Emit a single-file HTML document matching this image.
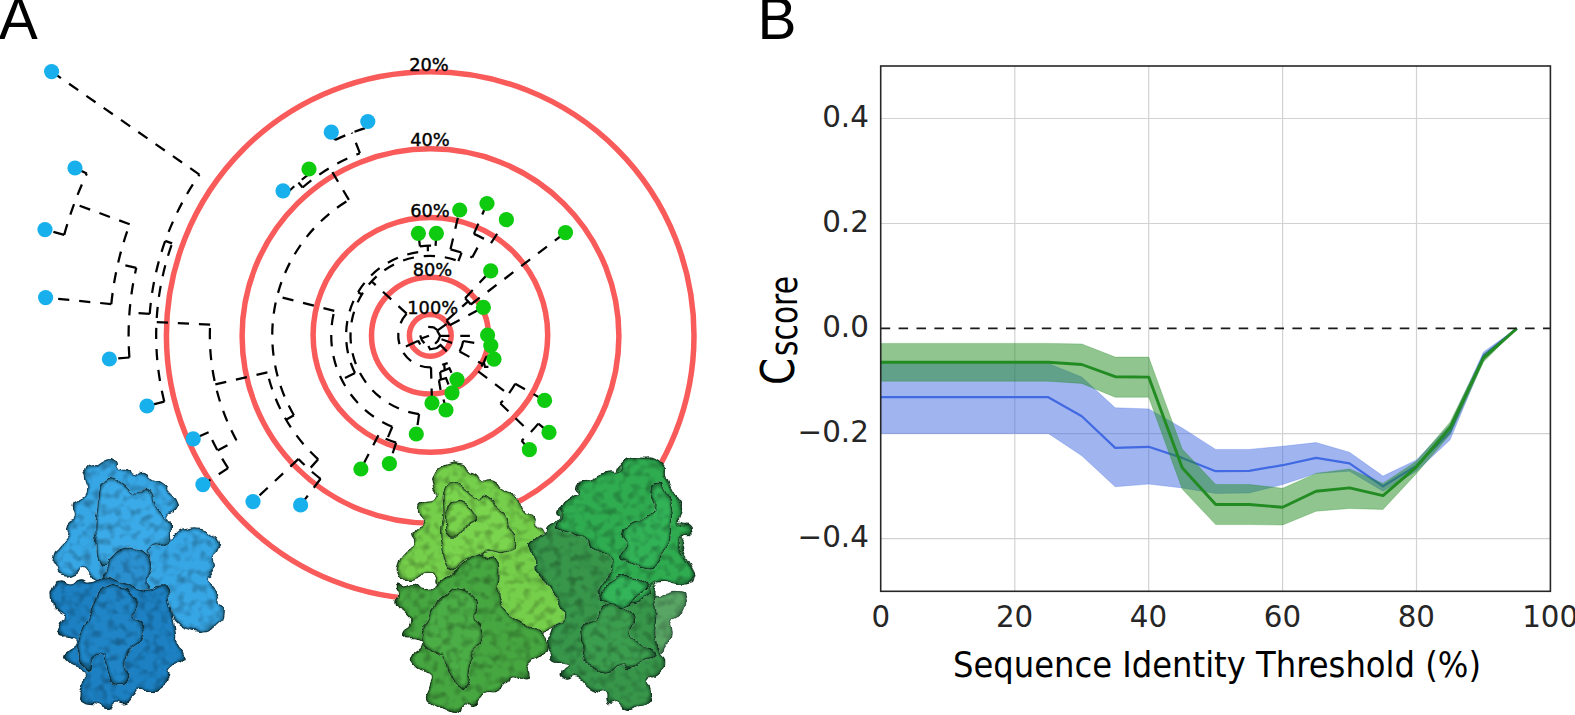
<!DOCTYPE html>
<html lang="en"><head><meta charset="utf-8"><title>Figure: sequence identity dendrogram and C-score</title>
<style>html,body{margin:0;padding:0;background:#fff}svg{display:block}text{font-family:"DejaVu Sans","Liberation Sans",sans-serif}.lab{font-family:"Liberation Sans","DejaVu Sans",sans-serif}</style></head><body>
<svg width="1575" height="715" viewBox="0 0 1575 715">
<rect width="1575" height="715" fill="#fff"/>
<g id="panelA">
<g fill="none" stroke="#f95a5a" stroke-width="5.5">
<ellipse cx="430.2" cy="335.5" rx="263.8" ry="263.8"/>
<ellipse cx="430.5" cy="336" rx="188.4" ry="187.2"/>
<ellipse cx="430.4" cy="334.9" rx="117.3" ry="117.4"/>
<ellipse cx="430" cy="335.6" rx="58.5" ry="58.4"/>
<ellipse cx="430.3" cy="335.4" rx="20.9" ry="20.9"/>
</g>
<g fill="none" stroke="#000" stroke-width="2.25" stroke-dasharray="11.2 9.9">
<path d="M431 367.4A32 32 0 0 1 406.7 313.7"/>
<path d="M406.7 313.7L371.8 281.5"/>
<path d="M419.1 414.1A79.5 79.5 0 1 1 458.4 261.1"/>
<path d="M419.1 414.1L416.3 434"/>
<path d="M362 294.5L358.1 292.2"/>
<path d="M355 373A84.1 84.1 0 0 1 427.9 251.3"/>
<path d="M355 373L341.6 379.7"/>
<path d="M392.3 426.8A99 99 0 0 1 334.3 310.9"/>
<path d="M334.3 310.9L277.1 296.2"/>
<path d="M293.9 415.2A158 158 0 0 1 348.9 199.9"/>
<path d="M293.9 415.2L286.1 419.8"/>
<path d="M318.2 459.3A167 167 0 0 1 267.4 372.4"/>
<path d="M267.4 372.4L215.3 384.3"/>
<path d="M236.4 440.3A220.4 220.4 0 0 1 210.1 324.6"/>
<path d="M210.1 324.6L156.5 322"/>
<path d="M164.3 401.7A274 274 0 0 1 172.1 243.4"/>
<path d="M172.1 243.4L165.2 240.9"/>
<path d="M149.7 313.9A281.3 281.3 0 0 1 199.4 174.6"/>
<path d="M199.4 174.6L51.6 71.6"/>
<path d="M149.7 313.9L129.5 312.4"/>
<path d="M129.4 357.5A301.6 301.6 0 0 1 136.3 267.8"/>
<path d="M136.3 267.8L118 263.6"/>
<path d="M111.3 304.1A320.4 320.4 0 0 1 129.7 224.3"/>
<path d="M129.7 224.3L74.2 203.7"/>
<path d="M64.2 234.9A379.6 379.6 0 0 1 86.8 173.6"/>
<path d="M86.8 173.6L75 168"/>
<path d="M64.2 234.9L45 229.6"/>
<path d="M111.3 304.1L45.6 297.6"/>
<path d="M129.4 357.5L109.4 359"/>
<path d="M164.3 401.7L147 406"/>
<path d="M217.6 450.5L236.4 440.3"/>
<path d="M228.1 468.1A241.8 241.8 0 0 1 208.6 432.2"/>
<path d="M208.6 432.2L193.2 438.9"/>
<path d="M228.1 468.1L202.9 484.6"/>
<path d="M318.2 459.3L309.2 469.3"/>
<path d="M320.6 478.8A180.5 180.5 0 0 1 298.5 458.9"/>
<path d="M298.5 458.9L253 501.6"/>
<path d="M320.6 478.8L300.6 505"/>
<path d="M348.9 199.9L329.8 167.9"/>
<path d="M302.6 187.5A195.3 195.3 0 0 1 359.9 153.2"/>
<path d="M302.6 187.5L298.4 182.6"/>
<path d="M286.2 194A201.8 201.8 0 0 1 311.4 172.3"/>
<path d="M286.2 194L283 190.8"/>
<path d="M311.4 172.3L309 169"/>
<path d="M359.9 153.2L351.9 132.7"/>
<path d="M335.1 140A217.3 217.3 0 0 1 369.3 126.8"/>
<path d="M335.1 140L331.3 132.2"/>
<path d="M369.3 126.8L367.8 121.5"/>
<path d="M392.3 426.8L387.1 439.3"/>
<path d="M396.1 442.6A112.5 112.5 0 0 1 378.4 435.3"/>
<path d="M378.4 435.3L360.9 469"/>
<path d="M396.1 442.6L389.4 463.7"/>
<path d="M427.9 251.3L427.8 245.7"/>
<path d="M419.9 246.3A89.7 89.7 0 0 1 435.6 245.9"/>
<path d="M419.9 246.3L418.4 233.3"/>
<path d="M435.6 245.9L436.4 233.3"/>
<path d="M458.4 261.1L461.6 252.7"/>
<path d="M450.5 249.3A88.5 88.5 0 0 1 472.2 257.5"/>
<path d="M450.5 249.3L459.7 210"/>
<path d="M472.2 257.5L482.6 238.1"/>
<path d="M473.9 233.9A110.5 110.5 0 0 1 491 243.1"/>
<path d="M473.9 233.9L487 203.5"/>
<path d="M491 243.1L506.4 219.7"/>
<path d="M431 367.4L432 403"/>
<path d="M416.1 341.8L401.1 348.6"/>
<path d="M446.5 320.7A22 22 0 0 1 449.7 325.2"/>
<path d="M446.5 320.7L468.1 301.3"/>
<path d="M465.1 298.2A51 51 0 0 1 470.8 304.5"/>
<path d="M465.1 298.2L490.7 270.9"/>
<path d="M470.8 304.5L565.5 232.6"/>
<path d="M449.7 325.2L483.4 307.4"/>
<path d="M437.6 330.3L448.2 322.8"/>
<path d="M463.2 341A33.5 33.5 0 0 1 459.6 351.5"/>
<path d="M463.2 341L490.8 345.6"/>
<path d="M459.6 351.5L482.8 364.2"/>
<path d="M486.4 356.4A60 60 0 0 1 478.2 371.4"/>
<path d="M486.4 356.4L494 359.2"/>
<path d="M478.2 371.4L508.4 394.1"/>
<path d="M515.2 383.7A97.8 97.8 0 0 1 500.4 403.5"/>
<path d="M515.2 383.7L544.6 400.4"/>
<path d="M500.4 403.5L530.3 432.5"/>
<path d="M538.3 423.6A139.5 139.5 0 0 1 521.6 440.8"/>
<path d="M538.3 423.6L549 432.4"/>
<path d="M521.6 440.8L529.4 449.7"/>
<path d="M441.5 339.3L461.9 346.4"/>
</g>
<g fill="none" stroke="#000" stroke-width="2.25" stroke-linejoin="miter">
<polyline points="460.3,335.9 469.9,335.9"/>
<polyline points="440.1,335.9 449.4,335.9"/>
<polyline points="437.2,330.8 440.1,335.9 438,340.9 435.1,343.8"/>
<polyline points="428.2,326.9 433.6,327.3 437.8,330.3"/>
<polyline points="416,341.6 418.5,341.2 420.2,344.5"/>
<polyline points="420.2,335.3 421.9,340.3 424.4,343.3"/>
<polyline points="421.9,338.3 429,335.7"/>
<polyline points="428.4,345.9 430.1,349.3 436.8,348 440.6,345.1 446.8,351.4"/>
<polyline points="442.2,364.8 447.7,363.1"/>
<polyline points="444.3,364.5 444.7,370.3"/>
<polyline points="440.1,372 444.7,370.3 449.4,368.2 451.5,372.8"/>
<polyline points="440.1,372 441,379.5"/>
<polyline points="438.9,380.3 441,379.5 446,378.2 448.5,384.5"/>
<polyline points="438.9,380.3 440.6,390"/>
<polyline points="443.5,399.5 444.5,403"/>
<polyline points="483.8,361.9 485,366.9 488.4,366.9"/>
</g>
<circle cx="51.6" cy="71.6" r="7.6" fill="#18b0ec"/>
<circle cx="75" cy="168" r="7.6" fill="#18b0ec"/>
<circle cx="45" cy="229.6" r="7.6" fill="#18b0ec"/>
<circle cx="45.6" cy="297.6" r="7.6" fill="#18b0ec"/>
<circle cx="109.4" cy="359" r="7.6" fill="#18b0ec"/>
<circle cx="147" cy="406" r="7.6" fill="#18b0ec"/>
<circle cx="193.2" cy="438.9" r="7.6" fill="#18b0ec"/>
<circle cx="202.9" cy="484.6" r="7.6" fill="#18b0ec"/>
<circle cx="253" cy="501.6" r="7.6" fill="#18b0ec"/>
<circle cx="300.6" cy="505" r="7.6" fill="#18b0ec"/>
<circle cx="283" cy="190.8" r="7.6" fill="#18b0ec"/>
<circle cx="331.3" cy="132.2" r="7.6" fill="#18b0ec"/>
<circle cx="367.8" cy="121.5" r="7.6" fill="#18b0ec"/>
<circle cx="309" cy="169" r="7.6" fill="#0fcb10"/>
<circle cx="459.7" cy="210" r="7.6" fill="#0fcb10"/>
<circle cx="487" cy="203.5" r="7.6" fill="#0fcb10"/>
<circle cx="506.4" cy="219.7" r="7.6" fill="#0fcb10"/>
<circle cx="418.4" cy="233.3" r="7.6" fill="#0fcb10"/>
<circle cx="436.4" cy="233.3" r="7.6" fill="#0fcb10"/>
<circle cx="565.5" cy="232.6" r="7.6" fill="#0fcb10"/>
<circle cx="490.7" cy="270.9" r="7.6" fill="#0fcb10"/>
<circle cx="483.4" cy="307.4" r="7.6" fill="#0fcb10"/>
<circle cx="487.6" cy="335" r="7.6" fill="#0fcb10"/>
<circle cx="490.8" cy="345.6" r="7.6" fill="#0fcb10"/>
<circle cx="494" cy="359.2" r="7.6" fill="#0fcb10"/>
<circle cx="457" cy="379.6" r="7.6" fill="#0fcb10"/>
<circle cx="452" cy="392.8" r="7.6" fill="#0fcb10"/>
<circle cx="432" cy="403" r="7.6" fill="#0fcb10"/>
<circle cx="446" cy="410" r="7.6" fill="#0fcb10"/>
<circle cx="416.3" cy="434" r="7.6" fill="#0fcb10"/>
<circle cx="389.4" cy="463.7" r="7.6" fill="#0fcb10"/>
<circle cx="360.9" cy="469" r="7.6" fill="#0fcb10"/>
<circle cx="544.6" cy="400.4" r="7.6" fill="#0fcb10"/>
<circle cx="549" cy="432.4" r="7.6" fill="#0fcb10"/>
<circle cx="529.4" cy="449.7" r="7.6" fill="#0fcb10"/>
<g font-size="17.8" text-anchor="middle" fill="#000" stroke="#000" stroke-width="0.4">
<text x="429" y="70.8">20%</text>
<text x="430" y="146">40%</text>
<text x="430" y="216.5">60%</text>
<text x="432.5" y="275.5">80%</text>
<text x="432.7" y="313.6">100%</text>
</g>
<defs><filter id="prot" x="-8%" y="-8%" width="116%" height="116%" color-interpolation-filters="sRGB"><feTurbulence type="fractalNoise" baseFrequency="0.075" numOctaves="1" seed="4" result="n1"/><feDisplacementMap in="SourceGraphic" in2="n1" scale="11" xChannelSelector="R" yChannelSelector="G" result="shape"/><feTurbulence type="fractalNoise" baseFrequency="0.13" numOctaves="2" seed="11" result="noise"/><feGaussianBlur in="noise" stdDeviation="0.9" result="nb"/><feColorMatrix in="nb" type="matrix" values="0.75 0 0 0 0.59  0.75 0 0 0 0.59  0.75 0 0 0 0.59  0 0 0 0 1" result="lit"/><feBlend in="shape" in2="lit" mode="multiply" result="mult"/><feComposite in="mult" in2="shape" operator="in" result="tex"/><feGaussianBlur in="shape" stdDeviation="4.5" result="blurA"/><feColorMatrix in="blurA" type="matrix" values="0 0 0 0 0  0 0 0 0 0.08  0 0 0 0 0.05  0 0 0 -1.3 1.05" result="edge0"/><feComposite in="edge0" in2="shape" operator="in" result="edge"/><feMerge><feMergeNode in="tex"/><feMergeNode in="edge"/></feMerge></filter></defs>
<g id="proteins" stroke-width="1.3" stroke-linejoin="round">
<path d="M648 594C651.3 585.8 650.4 595.3 656 595.5C661.6 595.7 657.2 595.6 664.7 594.6C672.2 593.6 672.3 591.3 678.5 592.6C684.7 593.9 682.1 592 683.4 598.5C684.7 605 686 604.4 682.4 612.2C678.8 620 675.9 614.2 672.6 622C669.3 629.8 675.2 627.9 672.6 635.7C670 643.5 669.3 640.1 664.7 645.5C660.1 650.9 664.5 651.2 658.9 652C653.3 652.8 652.3 658.7 648 648C643.7 637.3 646 638 646 620C646 602 644.7 602.2 648 594Z" fill="#469c54" stroke="#2a6e3a" opacity="0.9" filter="url(#prot)"/>
<path d="M86 468.6C89.3 463.7 89.3 468 96.8 464.7C104.3 461.4 102.4 459.5 108.6 458.8C114.8 458.1 112.5 459.1 115.4 462.7C118.3 466.3 113.8 467.3 117.4 469.6C121 471.9 121.3 467.6 126.2 469.6C131.1 471.6 126.8 474.9 132 475.5C137.2 476.1 135.7 470.2 141.9 471.5C148.1 472.8 144.2 475.1 150.7 479.4C157.2 483.7 155.5 480.1 161.4 484.3C167.3 488.5 163.4 486.6 168.3 492.1C173.2 497.6 173.8 495.3 176.1 500.9C178.4 506.5 177.8 504.2 175.2 508.8C172.6 513.4 170.3 509.4 168.3 514.6C166.3 519.8 169.6 518.5 169.3 524.4C169 530.3 166.7 527.8 167.3 532.3C167.9 536.8 167.9 538 171.2 538C174.5 538 171.9 535.2 177.1 532.3C182.3 529.4 179.1 530.6 186.9 529.3C194.7 528 192.8 526.8 200.6 528.4C208.4 530 204.5 529.6 210.4 534.2C216.3 538.8 216 536.9 218.3 542.1C220.6 547.3 219.3 544.7 217.3 549.9C215.3 555.1 213.4 552.5 212.4 557.7C211.4 562.9 215 560.4 214.3 565.6C213.6 570.8 213.3 569.3 210.4 573.4C207.5 577.5 205.5 574.2 205.5 578C205.5 581.8 206.1 579.9 210.4 584.8C214.7 589.7 216.3 586.1 218.3 592.6C220.3 599.1 214.7 597.9 216.3 604.4C217.9 610.9 223.9 605 223.2 612.2C222.5 619.4 221.2 619.7 214.3 625.9C207.4 632.1 211.1 629.8 202.6 630.8C194.1 631.8 197.4 631.8 188.9 628.9C180.4 626 183.4 627.6 177.1 622C170.8 616.4 179 619.3 170 612C161 604.7 166.7 607.3 150 600C133.3 592.7 137.7 596.9 120 590C102.3 583.1 107.1 584.2 96.8 579.3C86.5 574.4 93.9 579.3 89 575.4C84.1 571.5 86.7 568.2 82.1 567.5C77.5 566.8 81.5 570.8 75.3 573.4C69.1 576 69.7 576.7 63.5 575.4C57.3 574.1 60 575.7 56.7 569.5C53.4 563.3 52.1 564.6 53.7 556.8C55.3 549 56.6 552.9 61.5 546C66.4 539.1 65.8 543.4 68.4 536.2C71 529 66.8 530.6 69.4 524.4C72 518.2 75.2 523.5 76.2 517.6C77.2 511.7 71.3 513 72.3 506.8C73.3 500.6 73.6 503.6 79.2 499C84.8 494.4 86.4 499.6 89 493.1C91.6 486.6 88 487.6 87 479.4C86 471.2 82.7 473.5 86 468.6Z" fill="#37a6e5" stroke="#1b5f8e" filter="url(#prot)"/>
<path d="M96.8 508.8C98.1 495.7 96.2 498 98.8 489.2C101.4 480.4 99.4 485.2 104.6 482.3C109.8 479.4 107.2 478.4 114.4 480.4C121.6 482.4 120.3 483.3 126.2 488.2C132.1 493.1 126.9 494.4 132.1 495.1C137.3 495.8 136 490.2 141.9 490.2C147.8 490.2 145.8 489.6 149.7 495.1C153.6 500.6 148.4 499.6 153.6 506.8C158.8 514 160.2 508.1 165.4 516.6C170.6 525.1 169.3 523.8 169.3 532.3C169.3 540.8 171.9 536.9 165.4 542.1C158.9 547.3 154.3 542 149.7 547.9C145.1 553.8 153 551.8 151.7 559.7C150.4 567.6 151.7 568.9 145.8 571.5C139.9 574.1 141.2 574 134 567.5C126.8 561 130.7 554.5 124.2 551.9C117.7 549.3 120.3 555.1 114.4 559.7C108.5 564.3 111.8 565.6 106.6 565.6C101.4 565.6 102.1 566.9 98.8 559.7C95.5 552.5 98.1 554.4 96.8 544C95.5 533.6 94.8 540.1 94.8 528.4C94.8 516.7 95.5 521.9 96.8 508.8Z" fill="#3baae8" stroke="#1b5f8e" filter="url(#prot)"/>
<path d="M107 581C104 573.7 105.7 574.3 108 566C110.3 557.7 108.7 561.5 114 556C119.3 550.5 117 551.8 124 549.5C131 547.2 127.7 547.8 135 549C142.3 550.2 140.7 548.7 146 553C151.3 557.3 149.7 555.7 151 562C152.3 568.3 151.7 566 150 572C148.3 578 146.3 574.3 146 580C145.7 585.7 151 584.3 149 589C147 593.7 147 593 140 594C133 595 135.7 594 128 592C120.3 590 124 591.7 117 588C110 584.3 110 588.3 107 581Z" fill="#2a90d0" stroke="#175582" filter="url(#prot)"/>
<path d="M53.7 586.8C56.9 580.6 55.6 582.6 61.5 581.9C67.4 581.2 65.1 585.4 71.3 584.8C77.5 584.2 73.8 580.9 80 580C86.2 579.1 83.3 582.7 90 582C96.7 581.3 94 579.7 100 578C106 576.3 102 576 108 577C114 578 110.7 578.3 118 581C125.3 583.7 122.7 582.3 130 585C137.3 587.7 133.3 587.3 140 589C146.7 590.7 143.3 591 150 590C156.7 589 154.3 586 160 586C165.7 586 163.7 584.7 167 590C170.3 595.3 167.8 591.3 170 602C172.2 612.7 171.7 611.3 173.5 622C175.3 632.7 174.5 626.2 175.5 634C176.5 641.8 174.3 639 176.5 645.5C178.7 652 180.8 648.2 182 653.4C183.2 658.6 184.3 656.6 180.1 661.2C175.9 665.8 173.2 661.9 169.3 667.1C165.4 672.3 170.9 670.4 168.3 676.9C165.7 683.4 167.7 682.1 161.5 686.7C155.3 691.3 156.9 690 149.7 690.6C142.5 691.2 145.8 686.7 139.9 688.6C134 690.5 137.3 691.5 132.1 696.4C126.9 701.3 129.8 701.3 124.2 703.3C118.6 705.3 120.6 700.7 115.4 702.3C110.2 703.9 114.8 707.2 108.6 708.2C102.4 709.2 105 707.3 96.8 705.3C88.6 703.3 89.3 705.9 84.1 702.3C78.9 698.7 81.1 700.4 81.1 694.5C81.1 688.6 82.5 691.2 84.1 684.7C85.7 678.2 87.6 680.1 86 674.9C84.4 669.7 85.1 672.9 79.2 669C73.3 665.1 72.7 668.3 68.4 663.1C64.1 657.9 63.8 659.9 66.4 653.4C69 646.9 75.2 648.8 76.2 643.6C77.2 638.4 74.9 640.3 69.4 637.7C63.9 635.1 62.9 639.3 59.6 635.7C56.3 632.1 57 633.1 59.6 626.9C62.2 620.7 68.1 622.6 67.4 617.1C66.7 611.6 62.8 615.8 57.6 610.3C52.4 604.8 53.1 608.3 51.8 600.5C50.5 592.7 50.5 593 53.7 586.8Z" fill="#1c80c2" stroke="#114a72" filter="url(#prot)"/>
<path d="M98.8 594.6C103.4 587.4 100.1 589.4 106.6 586.8C113.1 584.2 109.9 584.2 118.4 586.8C126.9 589.4 126.2 587.4 132.1 594.6C138 601.8 136 600.5 136 608.3C136 616.1 130.1 612.2 132.1 618.1C134.1 624 138.6 618.7 141.9 625.9C145.2 633.1 145.2 631.8 141.9 639.6C138.6 647.4 137.3 642.2 132.1 649.4C126.9 656.6 128.2 652 126.2 661.2C124.2 670.4 128.8 669.1 126.2 676.9C123.6 684.7 123.6 684.7 118.4 684.7C113.2 684.7 114.4 684.1 110.5 676.9C106.6 669.7 108.6 670.9 106.6 663.1C104.6 655.3 108.5 655.3 104.6 653.4C100.7 651.5 100.7 652.1 94.8 657.3C88.9 662.5 92.2 670.3 87 669C81.8 667.7 81.8 663.2 79.2 653.4C76.6 643.6 76.6 649.4 79.2 639.6C81.8 629.8 82.4 634.4 87 624C91.6 613.6 89 618.1 92.9 608.3C96.8 598.5 94.2 601.8 98.8 594.6Z" fill="#1f85c7" stroke="#114a72" filter="url(#prot)"/>
<path d="M434.8 473.5C438.4 467.3 436.1 469.6 444.6 466.7C453.1 463.8 452.8 463.4 460.3 464.7C467.8 466 462 467.3 467.2 470.6C472.4 473.9 471.1 470.9 476 474.5C480.9 478.1 476 479 481.9 481.3C487.8 483.6 487.1 478.7 493.6 481.3C500.1 483.9 495 484.9 501.5 489.2C508 493.5 507.3 490.2 513.2 494.1C519.1 498 515.2 494.7 519.1 500.9C523 507.1 519.8 507.5 525 512.7C530.2 517.9 530.9 512 534.8 516.6C538.7 521.2 533.3 520.6 536.7 526.4C540.1 532.2 539.9 522.8 545 534C550.1 545.2 547 544.7 552 560C557 575.3 555.3 566.7 560 580C564.7 593.3 564 587.3 566 600C568 612.7 569.2 609.5 566 618.1C562.8 626.7 562.8 621.3 556.3 625.9C549.8 630.5 553.7 629.2 546.5 631.8C539.3 634.4 541.9 635.8 534.7 633.8C527.5 631.8 532.2 629.8 525 625.9C517.8 622 521 625.9 513.2 622C505.4 618.1 507.6 621.5 501.5 614.2C495.4 606.9 498.8 609.7 495 600C491.2 590.3 498.3 588.3 490 585C481.7 581.7 483.3 589 470 590C456.7 591 461.1 589.4 450 588C438.9 586.6 441.9 589.4 436.8 585.8C431.7 582.2 438.1 581.8 434.8 577.3C431.5 572.8 432.2 572.4 427 572.4C421.8 572.4 425.7 575 419.2 577.3C412.7 579.6 414.3 579.9 407.4 579.3C400.5 578.7 401.2 581.3 398.6 575.4C396 569.5 397.3 569.5 399.6 561.7C401.9 553.9 400.3 557.8 405.5 551.9C410.7 546 412.7 550.5 415.3 544C417.9 537.5 410.7 539.5 413.3 532.3C415.9 525.1 421.1 529.7 423.1 522.5C425.1 515.3 419.2 517.6 419.2 510.7C419.2 503.8 417.2 506.5 423.1 501.9C429 497.3 433.2 502.5 436.8 497C440.4 491.5 434.6 493.1 433.9 485.3C433.2 477.5 431.2 479.7 434.8 473.5Z" fill="#75cf4a" stroke="#356b26" filter="url(#prot)"/>
<path d="M442.7 514.6C444 500.2 439.4 499 444.6 489.2C449.8 479.4 448.6 482.7 458.4 485.3C468.2 487.9 464.9 493.1 474 497C483.1 500.9 478 493.1 485.8 497C493.6 500.9 491 502.9 497.5 508.8C504 514.7 501.5 508.1 505.4 514.6C509.3 521.1 506 519.2 509.3 528.4C512.6 537.6 516.5 534.3 515.2 542.1C513.9 549.9 513.9 548.6 505.4 551.9C496.9 555.2 498.9 550.6 489.7 551.9C480.5 553.2 486.4 553.2 477.9 555.8C469.4 558.4 472 555.1 464.2 559.7C456.4 564.3 460.3 567.5 454.4 569.5C448.5 571.5 450.5 572.8 446.6 565.6C442.7 558.4 444.7 559 442.7 547.9C440.7 536.8 440.7 543.4 440.7 532.3C440.7 521.2 441.4 529 442.7 514.6Z" fill="#7ad44d" stroke="#356b26" filter="url(#prot)"/>
<path d="M444.6 516.6C445.3 510.7 443.3 511.4 446.6 506.8C449.9 502.2 447.9 503.6 454.4 502.9C460.9 502.2 459.7 501.5 466.2 504.8C472.7 508.1 470.7 508.1 474 512.7C477.3 517.3 478.6 514.7 476 518.6C473.4 522.5 470.8 519.8 466.2 524.4C461.6 529 466.2 528.4 462.3 532.3C458.4 536.2 459.6 536.2 454.4 536.2C449.2 536.2 449.9 536.2 446.6 532.3C443.3 528.4 445.3 529.6 444.6 524.4C443.9 519.2 443.9 522.5 444.6 516.6Z" fill="#78d24c" stroke="#356b26" filter="url(#prot)"/>
<path d="M396.7 584.8C398.7 582.2 399.3 586.8 405.5 586.8C411.7 586.8 408.8 583.5 415.3 584.8C421.8 586.1 417.9 590.4 425.1 590.7C432.3 591 430.2 589.4 436.8 585.8C443.4 582.2 438.9 584.6 445 580C451.1 575.4 448.3 578 455 572C461.7 566 458.3 567.3 465 562C471.7 556.7 467.3 558 475 556C482.7 554 480.7 554 488 556C495.3 558 493 555.7 497 562C501 568.3 499.7 565.7 500 575C500.3 584.3 498 580.7 498 590C498 599.3 497.3 596 500 603C502.7 610 500.7 605.7 506 611C511.3 616.3 508.3 613.7 516 619C523.7 624.3 520.7 622 529 627C537.3 632 535.3 629 541 634C546.7 639 544.5 636.2 546 642C547.5 647.8 548.2 645.9 545.5 651.4C542.8 656.9 544.5 653.9 538 658.5C531.5 663.1 529.4 660.3 526 665.1C522.6 669.9 528.2 668 527.9 672.9C527.6 677.8 529.9 679.1 525 679.8C520.1 680.5 519.1 673.9 513.2 674.9C507.3 675.9 512.5 677.5 507.3 682.7C502.1 687.9 504.3 687.3 497.5 690.6C490.7 693.9 492.7 689.2 486.8 692.5C480.9 695.8 484.8 695.8 479.9 700.4C475 705 477.3 704.9 472.1 706.2C466.9 707.5 468.8 702.3 464.2 704.3C459.6 706.3 464.9 710.8 458.4 712.1C451.9 713.4 452.8 710.8 444.6 708.2C436.4 705.6 439.4 708.2 433.9 704.3C428.4 700.4 429.3 702.3 428 696.4C426.7 690.5 428.7 693.2 430 686.7C431.3 680.2 433.5 681.8 431.9 676.9C430.3 672 431 675.9 425.1 672C419.2 668.1 418.2 670.7 414.3 665.1C410.4 659.5 410.7 661.8 413.3 655.3C415.9 648.8 420.8 650.7 422.1 645.5C423.4 640.3 422.7 642.2 417.2 639.6C411.7 637 409.7 640.6 405.5 637.7C401.3 634.8 402.2 636 404.5 630.8C406.8 625.6 411.3 628.2 412.3 622C413.3 615.8 412.3 618.1 407.4 612.2C402.5 606.3 400.2 610.3 397.6 604.4C395 598.5 399.9 601.1 399.6 594.6C399.3 588.1 394.7 587.4 396.7 584.8Z" fill="#46a640" stroke="#25591f" filter="url(#prot)"/>
<path d="M438.8 600.5C442.7 595.9 438.1 598.5 444.6 594.6C451.1 590.7 449.2 588.1 458.4 588.7C467.6 589.3 465.6 590.6 472.1 596.5C478.6 602.4 477.3 599.1 477.9 606.3C478.5 613.5 472.7 610.9 474 618.1C475.3 625.3 479.3 620.1 481.9 627.9C484.5 635.7 485.2 633.1 481.9 641.6C478.6 650.1 476 644.9 472.1 653.4C468.2 661.9 472.1 656.7 470.1 667.1C468.1 677.5 470.1 678.8 466.2 684.7C462.3 690.6 463.6 688.6 458.4 684.7C453.2 680.8 454.4 682 450.5 672.9C446.6 663.8 450.5 663.8 446.6 657.3C442.7 650.8 445.3 656.7 438.8 653.4C432.3 650.1 432.9 654 427 647.5C421.1 641 420.4 643 421.1 633.8C421.8 624.6 425.1 628.5 429 620C432.9 611.5 429.6 614.8 432.9 608.3C436.2 601.8 434.9 605.1 438.8 600.5Z" fill="#4bad45" stroke="#25591f" filter="url(#prot)"/>
<path d="M574.6 487C575.2 482.1 575.9 482.1 580.5 482.1C585.1 482.1 583.2 488 588.4 487C593.6 486 590.3 483.4 596.2 479.2C602.1 475 599.5 475.6 606 474.3C612.5 473 610.6 478.6 615.8 475.3C621 472 615.8 469.7 621.7 464.5C627.6 459.3 624.9 459.9 633.4 459.6C641.9 459.3 638 461.5 647.1 463.5C656.2 465.5 654.9 461.6 660.8 465.5C666.7 469.4 662.7 468.1 664.7 475.3C666.7 482.5 662.8 479.8 666.7 487C670.6 494.2 671.3 490.9 676.5 496.8C681.7 502.7 682.4 498.1 682.4 504.6C682.4 511.1 677.2 510.2 676.5 516.4C675.8 522.6 675.5 520.4 680.4 523.3C685.3 526.2 687.9 522.3 691.2 525.2C694.5 528.1 693.8 528.5 690.2 532.1C686.6 535.7 683 531.4 680.4 536C677.8 540.6 680.4 539.3 682.4 545.8C684.4 552.3 683.4 549.1 686.3 555.6C689.2 562.1 688.6 558.3 691.2 565.4C693.8 572.5 695.7 571.2 694.1 577C692.5 582.8 693.5 581.5 686.3 582.8C679.1 584.1 679.8 582.8 672.6 580.9C665.4 579 669.9 576.6 664.7 577C659.5 577.4 660.9 577.7 657 582C653.1 586.3 653.7 584 653 590C652.3 596 653.7 591.7 655 600C656.3 608.3 657 605 657 615C657 625 655.3 620.7 655 630C654.7 639.3 654.7 635.9 656 643C657.3 650.1 656 645.3 658.9 651.4C661.8 657.5 664.7 654 664.7 661.2C664.7 668.4 664.8 666.4 658.9 672.9C653 679.4 650.1 674.9 647.1 680.8C644.1 686.7 649.3 683.4 650 690.6C650.7 697.8 653.3 697.1 649.1 702.3C644.9 707.5 645.1 703.6 637.3 706.2C629.5 708.8 631.5 711.5 625.6 710.2C619.7 708.9 624.9 704.9 619.7 702.3C614.5 699.7 614.5 705.6 609.9 702.3C605.3 699 610.6 696.4 606 692.5C601.4 688.6 602.7 693.2 596.2 690.6C589.7 688 592.9 689.3 586.4 684.7C579.9 680.1 583.8 678.9 576.6 676.9C569.4 674.9 569.7 680.8 564.8 678.8C559.9 676.8 561.2 676.2 561.9 671C562.6 665.8 569.1 666.4 566.8 663.1C564.5 659.8 559.9 664.4 555 661.2C550.1 658 554.7 659.3 552.1 653.4C549.5 647.5 547.2 649.4 547.2 643.6C547.2 637.8 549 641.9 552 636C555 630.1 552.6 631.9 556.3 625.9C560 619.9 562.3 626.6 563.2 618.1C564.1 609.6 563.7 610.9 559 600.5C554.3 590.1 553.8 594.6 549.2 586.8C544.6 579 549.9 582.9 545.3 577.1C540.7 571.3 538.1 575.2 535.5 569.3C532.9 563.4 539.4 566.7 537.4 559.5C535.4 552.3 530.2 554.9 529.6 547.7C529 540.5 529.6 543.1 535.5 537.9C541.4 532.7 543 536 547.2 532.1C551.4 528.2 543.6 530.8 548.2 526.2C552.8 521.6 557.3 523.6 560.9 518.4C564.5 513.2 557 515.7 559 510.5C561 505.3 560.3 507.3 566.8 502.7C573.3 498.1 576 502 578.6 496.8C581.2 491.6 574 491.9 574.6 487Z" fill="#37964a" stroke="#1d5a2c" filter="url(#prot)"/>
<path d="M577.3 484.2C581.8 479.7 583.1 482.3 592.7 478.5C602.3 474.7 596.6 475.3 606.2 472.7C615.8 470.1 615.1 474.6 621.5 470.8C627.9 467 619 465.1 625.4 461.2C631.8 457.3 629.3 458.6 640.8 459.2C652.3 459.8 651.7 456.7 660 463.1C668.3 469.5 661.3 468.3 665.8 478.5C670.3 488.7 668.4 484.8 673.5 493.8C678.6 502.8 679.3 495.8 681.2 505.4C683.1 515 676 515.7 679.2 522.7C682.4 529.7 687.6 522.7 690.8 526.5C694 530.3 692.7 530.3 688.8 534.2C684.9 538.1 681.7 532.3 679.2 538.1C676.7 543.9 677.3 541.9 681.2 551.5C685.1 561.1 687 557.9 690.8 566.9C694.6 575.9 696.6 572.7 692.7 578.5C688.8 584.3 688.8 583.6 679.2 584.2C669.6 584.8 673.4 579.7 663.8 580.4C654.2 581.1 656.8 580.4 650.4 586.2C644 592 652.9 592.6 644.6 597.7C636.3 602.8 636.9 601.5 625.4 601.5C613.9 601.5 618.3 600.9 610 597.7C601.7 594.5 601.7 598.3 600.4 591.9C599.1 585.5 601.7 586.8 606.2 578.5C610.7 570.2 613.2 574.6 613.8 566.9C614.4 559.2 614.5 560.5 608.1 555.4C601.7 550.3 601.7 556.6 594.6 551.5C587.5 546.4 593.3 545.8 586.9 540C580.5 534.2 583.1 537.4 575.4 534.2C567.7 531 570.2 533 563.8 530.4C557.4 527.8 556.2 531.6 556.2 526.5C556.2 521.4 561.9 522 563.8 515C565.7 508 559.3 511.2 561.9 505.4C564.5 499.6 565.7 502.2 571.5 497.7C577.3 493.2 577.3 496.4 579.2 491.9C581.1 487.4 572.8 488.7 577.3 484.2Z" fill="#2fab50" stroke="#1b5e2c" filter="url(#prot)"/>
<path d="M619.7 557.5C618.4 552.3 626.2 553.6 627.5 545.8C628.8 538 622.3 541.2 623.6 534C624.9 526.8 623.6 529.4 631.4 524.2C639.2 519 639.2 524.3 647.1 518.4C655 512.5 653.7 515.8 655 506.6C656.3 497.4 649.7 498.7 651 490.9C652.3 483.1 654.3 483.1 658.9 483.1C663.5 483.1 660.8 483.7 664.7 490.9C668.6 498.1 668 494.1 670.6 504.6C673.2 515.1 672.6 511.2 672.6 522.3C672.6 533.4 673.9 527.5 670.6 537.9C667.3 548.3 668 544.4 662.8 553.6C657.6 562.8 661.5 560.2 655 565.4C648.5 570.6 651.1 570.6 643.2 569.3C635.3 568 639.2 565.4 631.4 561.5C623.6 557.6 621 562.7 619.7 557.5Z" fill="#32b257" stroke="#1b5e2c" filter="url(#prot)"/>
<path d="M582.5 639.6C581.8 628.5 579.8 633.1 584.4 625.9C589 618.7 589.7 624.6 596.2 618.1C602.7 611.6 597.5 610.9 604 606.3C610.5 601.7 608 603.1 615.8 604.4C623.6 605.7 621 604.4 627.5 610.3C634 616.2 634.1 614.2 635.4 622C636.7 629.8 630.8 626.6 631.4 633.8C632 641 630.8 638.4 637.3 643.6C643.8 648.8 645.1 644.8 651 649.4C656.9 654 657.6 653.4 655 657.3C652.4 661.2 651.1 657.9 643.2 661.2C635.3 664.5 639.2 665.8 631.4 667.1C623.6 668.4 627.5 663.2 619.7 665.1C611.9 667 615.7 671.6 607.9 672.9C600.1 674.2 603.4 673.6 596.2 669C589 664.4 591 669 586.4 659.2C581.8 649.4 583.2 650.7 582.5 639.6Z" fill="#3b9d4e" stroke="#1d5a2c" filter="url(#prot)"/>
<path d="M600.1 598.5C600.1 593.9 600.8 593.3 606 586.8C611.2 580.3 607.3 582.2 615.8 578.9C624.3 575.6 621.6 576.3 631.4 577C641.2 577.7 640 577 645.2 580.9C650.4 584.8 650.4 583.5 647.1 588.7C643.8 593.9 641.9 591.3 635.4 596.5C628.9 601.7 634 601.8 627.5 604.4C621 607 623 605.7 615.8 604.4C608.6 603.1 611.2 602.5 606 600.5C600.8 598.5 600.1 603.1 600.1 598.5Z" fill="#33b459" stroke="#1b5e2c" filter="url(#prot)"/>
</g>
<text class="lab" x="-1.2" y="39.2" font-size="58.5" fill="#000">A</text>
</g>
<g id="panelB">
<text class="lab" x="757.6" y="39.2" font-size="58.5" fill="#000">B</text>
<g stroke="#d2d2d2" stroke-width="1.2">
<line x1="1014.8" y1="66" x2="1014.8" y2="591.3"/>
<line x1="1148.7" y1="66" x2="1148.7" y2="591.3"/>
<line x1="1282.6" y1="66" x2="1282.6" y2="591.3"/>
<line x1="1416.5" y1="66" x2="1416.5" y2="591.3"/>
<line x1="880.7" y1="118.5" x2="1550.4" y2="118.5"/>
<line x1="880.7" y1="223.5" x2="1550.4" y2="223.5"/>
<line x1="880.7" y1="433.6" x2="1550.4" y2="433.6"/>
<line x1="880.7" y1="538.6" x2="1550.4" y2="538.6"/>
</g>
<path d="M880.9 363.4L1048.3 363.4L1081.8 377.1L1115.2 407.8L1148.7 408.9L1182.2 428L1215.7 449.4L1249.1 449.4L1282.6 446.3L1316.1 442.6L1349.5 452.3L1383 476.1L1416.5 459.9L1450 424.8L1483.5 351.9L1516.9 328.3L1516.9 328.3L1483.5 359.8L1450 440L1416.5 471.2L1383 491.2L1349.5 471.2L1316.1 473.4L1282.6 484.6L1249.1 493L1215.7 493.4L1182.2 487.9L1148.7 484.1L1115.2 486.7L1081.8 455.8L1048.3 433.4L880.9 433.4Z" fill="#4169e1" fill-opacity="0.5" stroke="#4169e1" stroke-opacity="0.35" stroke-width="0.8"/>
<path d="M880.9 397.2L1048.3 397.2L1081.8 416.3L1115.2 447.9L1148.7 446.8L1182.2 457.9L1215.7 471.2L1249.1 470.8L1282.6 465.2L1316.1 457.9L1349.5 463.4L1383 486.3L1416.5 465.6L1450 432.2L1483.5 355.6L1516.9 328.3" fill="none" stroke="#4169e1" stroke-width="2.2" stroke-linejoin="round"/>
<path d="M880.9 343.4L1048.3 343.4L1081.8 344L1115.2 357.1L1148.7 357.1L1182.2 448.9L1215.7 484.5L1249.1 484.5L1282.6 488.3L1316.1 473.4L1349.5 468.9L1383 483.4L1416.5 461.2L1450 422.2L1483.5 354.5L1516.9 328.3L1516.9 328.3L1483.5 361.9L1450 434.5L1416.5 473.4L1383 509.4L1349.5 508.5L1316.1 511.2L1282.6 525L1249.1 524.6L1215.7 524.6L1182.2 489L1148.7 397.2L1115.2 397.2L1081.8 383.4L1048.3 381.2L880.9 381.2Z" fill="#228b22" fill-opacity="0.5" stroke="#228b22" stroke-opacity="0.35" stroke-width="0.8"/>
<path d="M880.9 362.3L1048.3 362.3L1081.8 364.5L1115.2 376.7L1148.7 377.1L1182.2 467.8L1215.7 504.5L1249.1 504.5L1282.6 507.2L1316.1 491.2L1349.5 487.9L1383 495.6L1416.5 466.8L1450 427.8L1483.5 358.1L1516.9 328.3" fill="none" stroke="#228b22" stroke-width="2.9" stroke-linejoin="round"/>
<line x1="880.7" y1="328.4" x2="1550.4" y2="328.4" stroke="#1a1a1a" stroke-width="1.8" stroke-dasharray="9.5 8.4"/>
<rect x="880.7" y="66" width="669.7" height="525.3" fill="none" stroke="#262626" stroke-width="1.6"/>
<g font-size="29.4" fill="#262626" text-anchor="end">
<text x="868.9" y="126.7">0.4</text>
<text x="868.9" y="231.7">0.2</text>
<text x="868.9" y="336.8">0.0</text>
<text x="868.9" y="441.8">−0.2</text>
<text x="868.9" y="546.8">−0.4</text>
</g>
<g font-size="29.3" fill="#262626" text-anchor="middle">
<text x="880.7" y="627.1">0</text>
<text x="1014.6" y="627.1">20</text>
<text x="1148.5" y="627.1">40</text>
<text x="1282.4" y="627.1">60</text>
<text x="1416.3" y="627.1">80</text>
<text x="1550.2" y="627.1">100</text>
</g>
<text x="953" y="676.7" font-size="35.1" fill="#000" textLength="528" lengthAdjust="spacingAndGlyphs">Sequence Identity Threshold (%)</text>
<g transform="translate(793.5 385) rotate(-90)" fill="#000"><text x="0" y="0" font-size="46.6" textLength="27" lengthAdjust="spacingAndGlyphs">C</text><text x="29" y="3.5" font-size="36.6" textLength="80" lengthAdjust="spacingAndGlyphs">score</text></g>
</g>
</svg></body></html>
